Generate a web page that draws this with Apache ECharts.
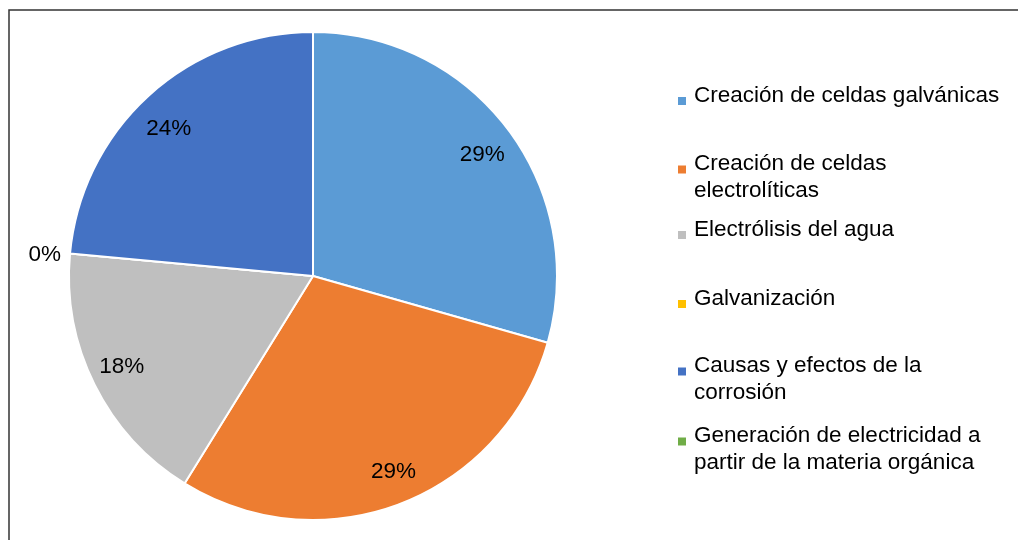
<!DOCTYPE html>
<html>
<head>
<meta charset="utf-8">
<script src="https://cdn.jsdelivr.net/npm/echarts@6/dist/echarts.min.js"></script>
<style>html,body{margin:0;padding:0;background:#fff;}#c{width:1018px;height:540px;}</style>
</head>
<body>
<div id="c"></div>
<script>
const categories = [
  'Creación de celdas galvánicas',
  'Creación de celdas electrolíticas',
  'Electrólisis del agua',
  'Galvanización',
  'Causas y efectos de la corrosión',
  'Generación de electricidad a partir de la materia orgánica'
];
const values = [5, 5, 3, 0, 4, 0];
const colors = ['#5B9BD5', '#ED7D31', '#BFBFBF', '#FFC000', '#4472C4', '#70AD47'];
const legendLines = [
  ['Creación de celdas galvánicas'],
  ['Creación de celdas', 'electrolíticas'],
  ['Electrólisis del agua'],
  ['Galvanización'],
  ['Causas y efectos de la', 'corrosión'],
  ['Generación de electricidad a', 'partir de la materia orgánica']
];
// layout-only tweaks (not data)
const legendTops = [84.5, 142.5, 218.5, 287.5, 344.5, 414.5];
const labelOffsets = [[0, 7], [4, -2], [-1.5, -4], [0, 2], [-1.5, 9], [0, 0]];

const font = 'Liberation Sans, Arial, sans-serif';
const fs = 22.5;
const chart = echarts.init(document.getElementById('c'));

const legends = categories.map((name, i) => {
  const lines = legendLines[i];
  const text = lines.length > 1
    ? '{b| }\n' + lines.map(l => '{t|' + l + '}').join('\n')
    : '{t|' + lines[0] + '}\n{s| }';
  return {
    left: 678, top: legendTops[i], padding: 0,
    icon: 'rect', itemWidth: 8, itemHeight: 8, itemGap: 0,
    selectedMode: false,
    itemStyle: { borderWidth: 0 },
    data: [name],
    formatter: () => text,
    textStyle: {
      fontFamily: font, fontSize: fs, color: '#000',
      rich: {
        t: { fontFamily: font, fontSize: fs, color: '#000', lineHeight: 26.5, padding: [0, 0, 0, 3] },
        s: { fontSize: 1, lineHeight: 10 },
        b: { fontSize: 1, lineHeight: 16 }
      }
    }
  };
});

const total = values.reduce((a, b) => a + b, 0);
const pct = v => Math.round(v / total * 100) + '%';

chart.setOption({
  animation: false,
  color: colors,
  legend: legends,
  graphic: [{
    type: 'rect', shape: { x: 9, y: 10, width: 1030, height: 560 },
    style: { fill: 'none', stroke: '#333', lineWidth: 1.5 }, silent: true, z: -1
  }],
  series: [
    {
      type: 'pie', center: [313, 276], radius: 244, startAngle: 90,
      avoidLabelOverlap: false, silent: true,
      itemStyle: { borderColor: '#fff', borderWidth: 2 },
      label: { show: false },
      labelLine: { show: false },
      data: categories.map((name, i) => {
        const d = { name: name, value: values[i], itemStyle: { color: colors[i] } };
        if (i === 3) {
          d.label = { show: true, position: 'outside', formatter: () => pct(values[i]),
            fontFamily: font, fontSize: fs, color: '#000', distanceToLabelLine: 0,
            offset: labelOffsets[i] };
          d.labelLine = { show: false, length: 9, length2: 0 };
        }
        return d;
      })
    },
    {
      type: 'pie', center: [313, 276], radius: [174, 244], startAngle: 90,
      avoidLabelOverlap: false, silent: true,
      itemStyle: { color: 'rgba(0,0,0,0)' },
      label: { show: true, position: 'inside', fontFamily: font, fontSize: fs, color: '#000',
        formatter: p => pct(p.value) },
      labelLine: { show: false },
      data: categories.map((name, i) => ({
        name: name, value: values[i],
        label: { show: values[i] > 0, offset: labelOffsets[i] }
      }))
    }
  ]
});
</script>
</body>
</html>
